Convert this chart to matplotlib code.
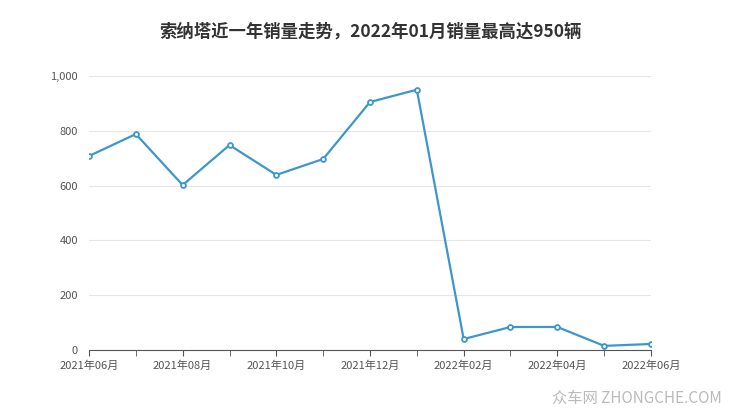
import matplotlib
matplotlib.use('Agg')
import matplotlib.pyplot as plt
from matplotlib.ticker import FuncFormatter

plt.rcParams['font.family'] = ['Noto Sans CJK SC', 'DejaVu Sans']

#data
months = ['2021年06月', '2021年07月', '2021年08月', '2021年09月', '2021年10月', '2021年11月', '2021年12月',
          '2022年01月', '2022年02月', '2022年03月', '2022年04月', '2022年05月', '2022年06月']
sales = [708, 788, 602, 748, 639, 697, 905, 950, 40, 84, 84, 15, 22]
title = '索纳塔近一年销量走势，2022年01月销量最高达950辆'

fig = plt.figure(figsize=(7.4, 4.17), dpi=100)
ax = fig.add_axes([89/740, 1-350/417, (651-89)/740, (350-76)/417])

x = list(range(len(months)))
ax.plot(x, sales, color='#3d97c9', lw=1.6, marker='o', ms=3.5,
        mfc='white', mec='#3d97c9', mew=1.3, zorder=3)

ax.set_xlim(0, len(months) - 1)
ax.set_ylim(0, 1000)
ax.set_yticks([0, 200, 400, 600, 800, 1000])
ax.yaxis.set_major_formatter(FuncFormatter(lambda v, p: f'{int(v):,}'))
ax.set_xticks(x[::2])
ax.set_xticklabels(months[::2])
ax.set_xticks(x, minor=True)
ax.grid(axis='y', color='#e6e6e6', lw=0.8)
for s in ['top', 'right', 'left']:
    ax.spines[s].set_visible(False)
ax.spines['bottom'].set_color('#555555')
ax.tick_params(axis='y', length=0, labelsize=8, colors='#555555', pad=8)
ax.tick_params(axis='x', which='both', length=4, labelsize=8, colors='#555555', direction='out')
ax.tick_params(axis='x', which='minor', length=4, color='#555555')

fig.text(0.5, 1-32/417, title, ha='center', va='center', fontsize=12.5,
         fontweight='bold', color='#333333')
fig.text(0.975, 1-398/417, '众车网 ZHONGCHE.COM', ha='right', va='center',
         fontsize=11, color='#bbbbbb')

fig.savefig('out.png', dpi=100)
